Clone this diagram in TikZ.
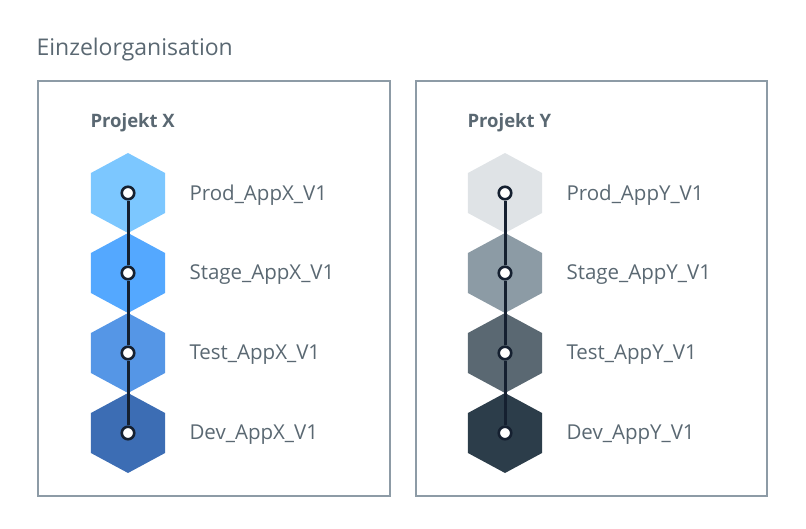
\documentclass[tikz,border=0pt]{standalone}
\usepackage{fontspec}
\setmainfont{Open Sans}
\usepackage{tikz}
\usetikzlibrary{shapes.geometric, positioning}

\definecolor{textgray}{HTML}{5A6872}
\definecolor{framegray}{HTML}{8D9BA6}
\definecolor{pipe}{HTML}{152030}
\definecolor{blueA}{HTML}{7CC7FF}
\definecolor{blueB}{HTML}{54A8FF}
\definecolor{blueC}{HTML}{5596E6}
\definecolor{blueD}{HTML}{3C6DB4}
\definecolor{grayA}{HTML}{DFE3E6}
\definecolor{grayB}{HTML}{8C9BA5}
\definecolor{grayC}{HTML}{5A6872}
\definecolor{grayD}{HTML}{2C3D4A}

\begin{document}
\begin{tikzpicture}[x=1pt, y=-1pt,
            frame/.style={draw=framegray, line width=2pt},
            hex/.style={regular polygon, regular polygon sides=6, shape border rotate=30, minimum size=80pt, inner sep=0pt, xscale=1.07},
            dot/.style={circle, draw=pipe, fill=white, line width=2.6pt, minimum size=12.5pt, inner sep=0pt},
            pipeline/.style={draw=pipe, line width=3pt},
            label/.style={anchor=west, text=textgray, font=\fontsize{20.5}{24}\selectfont},
            project/.style={anchor=west, text=textgray, font=\fontsize{18.5}{22}\selectfont\bfseries}]

            \useasboundingbox (0,0) rectangle (806,529);

            \node[anchor=west, text=textgray, font=\fontsize{23}{27}\selectfont] (title) at (33,50) {Einzelorganisation};

            \draw[frame] (38,81) rectangle (390,496);
            \draw[frame] (416,81) rectangle (767,496);

            % Projekt X
            \node[project] (projx) at (87,123) {Projekt X};
            \node[hex, fill=blueA] (hxp) at (128,193) {};
            \node[hex, fill=blueB] (hxs) at (128,273) {};
            \node[hex, fill=blueC] (hxt) at (128,353) {};
            \node[hex, fill=blueD] (hxd) at (128,433) {};
            \node[dot] (xp) at (128,193) {};
            \node[dot] (xs) at (128,273) {};
            \node[dot] (xt) at (128,353) {};
            \node[dot] (xd) at (128,433) {};
            \draw[pipeline] (xp) -- (xs);
            \draw[pipeline] (xs) -- (xt);
            \draw[pipeline] (xt) -- (xd);
            \node[label] (lxp) at (186,195) {Prod\_AppX\_V1};
            \node[label] (lxs) at (186,275) {Stage\_AppX\_V1};
            \node[label] (lxt) at (186,355) {Test\_AppX\_V1};
            \node[label] (lxd) at (186,435) {Dev\_AppX\_V1};

            % Projekt Y
            \node[project] (projy) at (464,123) {Projekt Y};
            \node[hex, fill=grayA] (hyp) at (505,193) {};
            \node[hex, fill=grayB] (hys) at (505,273) {};
            \node[hex, fill=grayC] (hyt) at (505,353) {};
            \node[hex, fill=grayD] (hyd) at (505,433) {};
            \node[dot] (yp) at (505,193) {};
            \node[dot] (ys) at (505,273) {};
            \node[dot] (yt) at (505,353) {};
            \node[dot] (yd) at (505,433) {};
            \draw[pipeline] (yp) -- (ys);
            \draw[pipeline] (ys) -- (yt);
            \draw[pipeline] (yt) -- (yd);
            \node[label] (lyp) at (563,195) {Prod\_AppY\_V1};
            \node[label] (lys) at (563,275) {Stage\_AppY\_V1};
            \node[label] (lyt) at (563,355) {Test\_AppY\_V1};
            \node[label] (lyd) at (563,435) {Dev\_AppY\_V1};
        \end{tikzpicture}
\end{document}
